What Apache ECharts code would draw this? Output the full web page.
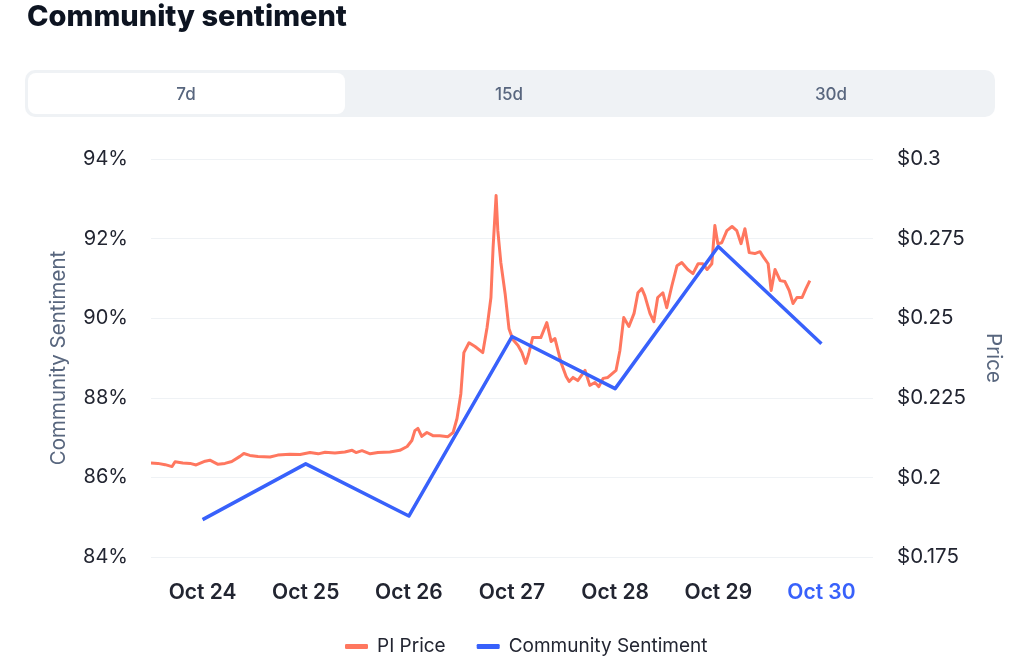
<!DOCTYPE html>
<html>
<head>
<meta charset="utf-8">
<script src="https://cdn.jsdelivr.net/npm/echarts@6/dist/echarts.min.js"></script>
<style>
html,body{margin:0;padding:0;background:#fff;}
#chart{width:1024px;height:665px;}
</style>
</head>
<body>
<div id="chart"></div>
<script>
// ---- data ----
const dayLabels = ['Oct 24', 'Oct 25', 'Oct 26', 'Oct 27', 'Oct 28', 'Oct 29', 'Oct 30'];
const sentimentValues = [84.94, 86.34, 85.03, 89.54, 88.23, 91.80, 89.36];
// hours relative to Oct 24 00:00
const priceHours = [-12, -10.4, -8.7, -7.1, -6.4, -4.6, -2.9, -1.5, 0.6, 1.7, 3.6, 5.2, 6.8, 8.7, 9.6, 11, 12.9, 15.7, 17.5, 20.3,
  22.7, 25, 26.9, 28.5, 30.8, 33.1, 34.8, 35.7, 37.1, 39, 40.8, 43.6, 45.9, 47.6, 48.7, 49.4, 50.1, 51, 52.2, 53.6,
  55.2, 57.1, 58.3, 59.2, 60.1, 60.8, 62, 63.4, 65.2, 66.2, 67.1, 67.6, 68.3, 68.7, 69.4, 70.4, 71.3, 72.2, 73.4, 74.3,
  75.2, 75.9, 76.8, 78.7, 80.1, 81.1, 82, 83.4, 84.6, 85.3, 86.2, 87.3, 89, 90.1, 91.3, 92.2, 93.2, 94.3, 96.2, 97.1,
  98, 99.2, 100.4, 101.3, 102.2, 102.9, 104.1, 105, 105.9, 107.1, 108, 109.2, 110.4, 111.5, 112.9, 114.1, 115.3, 116.4, 117.4, 118.5,
  119.2, 119.9, 120.8, 122, 123.2, 124.3, 125.3, 126.2, 127.2, 128.5, 129.7, 130.6, 131.6, 132.3, 133.2, 134.4, 135.5, 136.5, 137.4, 138.3,
  139.5, 140.4, 141.3];
const priceValues = [0.2045, 0.2044, 0.2040, 0.2034, 0.2049, 0.2045, 0.2044, 0.2039, 0.2051, 0.2054, 0.2041, 0.2044, 0.2050, 0.2066, 0.2075, 0.2069, 0.2066, 0.2064, 0.2070, 0.2073,
  0.2072, 0.2078, 0.2074, 0.2079, 0.2077, 0.2080, 0.2085, 0.2078, 0.2084, 0.2074, 0.2078, 0.2080, 0.2085, 0.2097, 0.2116, 0.2147, 0.2154, 0.2129, 0.2141, 0.2131,
  0.2131, 0.2128, 0.2141, 0.2185, 0.2263, 0.2392, 0.2423, 0.2411, 0.2392, 0.2471, 0.2565, 0.2722, 0.2885, 0.2775, 0.2675, 0.2577, 0.2467, 0.2433, 0.2414, 0.2392,
  0.2358, 0.2389, 0.2439, 0.2439, 0.2486, 0.2427, 0.2436, 0.2361, 0.2317, 0.2301, 0.2314, 0.2304, 0.2336, 0.2289, 0.2298, 0.2285, 0.2311, 0.2314, 0.2336, 0.2398,
  0.2502, 0.2474, 0.2515, 0.2580, 0.2593, 0.2571, 0.2515, 0.2489, 0.2565, 0.2580, 0.2533, 0.2602, 0.2665, 0.2675, 0.2653, 0.2640, 0.2671, 0.2671, 0.2653, 0.2671,
  0.2791, 0.2734, 0.2737, 0.2775, 0.2788, 0.2775, 0.2734, 0.2781, 0.2706, 0.2703, 0.2709, 0.2690, 0.2671, 0.2587, 0.2653, 0.2618, 0.2615, 0.2587, 0.2546, 0.2565,
  0.2565, 0.2593, 0.2618];
const tabLabels = ['7d', '15d', '30d'];

const FONT = 'Inter, "Noto Sans", sans-serif';
const priceData = priceHours.map((h, i) => [h, priceValues[i]]);

const chart = echarts.init(document.getElementById('chart'), null, {renderer: 'canvas'});

const tabGraphics = [
  {type: 'rect', shape: {x: 25, y: 70, width: 970, height: 47, r: 10}, style: {fill: '#EFF2F5'}, silent: true},
  {type: 'rect', shape: {x: 28, y: 73, width: 317, height: 41, r: 8}, style: {fill: '#FFFFFF'}, silent: true}
];
const tabCenters = [186, 509, 831];
tabLabels.forEach((t, i) => {
  tabGraphics.push({
    type: 'text', x: tabCenters[i], y: 95,
    style: {text: t, fill: '#58667E', font: '500 17px ' + FONT, textAlign: 'center', textVerticalAlign: 'middle'}
  });
});

chart.setOption({
  animation: false,
  backgroundColor: '#fff',
  textStyle: {fontFamily: FONT},
  title: {
    text: 'Community sentiment', left: 22, top: -2,
    textStyle: {fontSize: 29, fontWeight: 800, color: '#0D1421', fontFamily: FONT}
  },
  graphic: tabGraphics,
  legend: {
    bottom: 4, left: 340,
    itemWidth: 23, itemHeight: 5, itemGap: 31,
    icon: 'roundRect',
    textStyle: {fontSize: 19, color: '#222531', fontFamily: FONT, padding: [0, 0, 0, 4]},
    data: ['PI Price', 'Community Sentiment']
  },
  grid: {left: 151, right: 151, top: 159, bottom: 108, containLabel: false},
  xAxis: [
    {
      type: 'category', data: dayLabels, boundaryGap: true,
      axisLine: {show: false}, axisTick: {show: false},
      axisLabel: {
        margin: 25, fontSize: 21, fontWeight: 600, fontFamily: FONT,
        color: (v, i) => (i === dayLabels.length - 1 ? '#3861FB' : '#222531')
      },
      splitLine: {show: false}
    },
    {type: 'value', min: -12, max: 156, show: false}
  ],
  yAxis: [
    {
      type: 'value', min: 84, max: 94, interval: 2, position: 'left',
      name: 'Community Sentiment', nameLocation: 'middle', nameGap: 82, nameRotate: 90,
      nameTextStyle: {fontSize: 20.5, color: '#58667E', fontFamily: FONT},
      axisLine: {show: false}, axisTick: {show: false},
      axisLabel: {margin: 23, fontSize: 20, color: '#222531', fontFamily: FONT, formatter: v => v + '%'},
      splitLine: {show: true, lineStyle: {color: '#EFF2F5', width: 1}}
    },
    {
      type: 'value', min: 0.175, max: 0.3, interval: 0.025, position: 'right',
      name: 'Price', nameLocation: 'middle', nameGap: 110, nameRotate: -90,
      nameTextStyle: {fontSize: 20.5, color: '#58667E', fontFamily: FONT},
      axisLine: {show: false}, axisTick: {show: false},
      axisLabel: {margin: 24, fontSize: 20.5, color: '#222531', fontFamily: FONT,
        formatter: v => '$' + parseFloat(v.toFixed(3))},
      splitLine: {show: false}
    }
  ],
  series: [
    {
      name: 'PI Price', type: 'line', xAxisIndex: 1, yAxisIndex: 1,
      data: priceData, showSymbol: false, symbol: 'none',
      color: '#FF775F',
      lineStyle: {color: '#FF775F', width: 3, join: 'round'}
    },
    {
      name: 'Community Sentiment', type: 'line', xAxisIndex: 0, yAxisIndex: 0,
      data: sentimentValues, showSymbol: false, symbol: 'none',
      color: '#3861FB',
      lineStyle: {color: '#3861FB', width: 3.5, join: 'round'}
    }
  ]
});
</script>
</body>
</html>
